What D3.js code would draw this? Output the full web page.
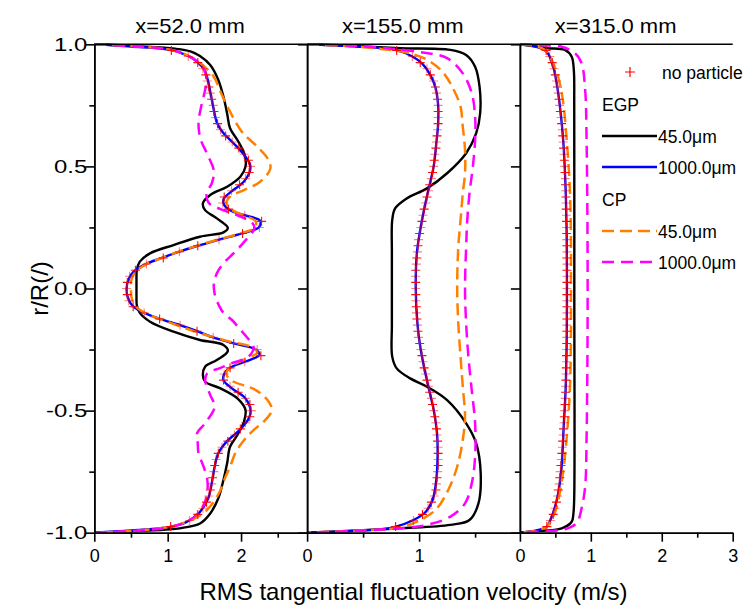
<!DOCTYPE html>
<html>
<head>
<meta charset="utf-8">
<script src="https://cdnjs.cloudflare.com/ajax/libs/d3/7.8.5/d3.min.js"></script>
<style>
  body { margin:0; background:#ffffff; }
  text { font-family:"Liberation Sans", Arial, sans-serif; fill:#000000; }
</style>
</head>
<body>
<div id="chart_svg_container"></div>
<script>
// Panels (one per axial station).
var panel_title_array        = ["x=52.0 mm", "x=155.0 mm", "x=315.0 mm"];
var panel_velocity_max_array = [2.9, 1.9, 3.0];
var panel_major_tick_array   = [[0, 1, 2], [0, 1], [0, 1, 2, 3]];
var panel_minor_tick_array   = [[0.5, 1.5, 2.5], [0.5, 1.5], [0.5, 1.5, 2.5]];
var r_major_tick_array       = [1, 0.5, 0, -0.5, -1];
var r_minor_tick_array       = [0.75, 0.25, -0.25, -0.75];

var axis_title_x = "RMS tangential fluctuation velocity (m/s)";
var axis_title_y = "r/R(/)";

var legend_marker_label = "no particle";
var legend_group_array  = ["EGP", "CP"];
var legend_size_array   = ["45.0\u03bcm", "1000.0\u03bcm"];

// No particle (markers): r/R positions and velocity per panel.
var no_particle_r_array = [
  0.975, 0.95, 0.925, 0.9, 0.875, 0.85, 0.825, 0.8, 0.775, 0.75, 0.725, 0.7, 0.675, 0.65, 0.625, 0.6, 0.575, 0.55, 0.525, 0.5,
  0.475, 0.45, 0.425, 0.4, 0.375, 0.35, 0.325, 0.3, 0.275, 0.25, 0.225, 0.2, 0.175, 0.15, 0.125, 0.1, 0.075, 0.05, 0.025, 0,
  -0.025, -0.05, -0.075, -0.1, -0.125, -0.15, -0.175, -0.2, -0.225, -0.25, -0.275, -0.3, -0.325, -0.35, -0.375, -0.4, -0.425, -0.45, -0.475, -0.5,
  -0.525, -0.55, -0.575, -0.6, -0.625, -0.65, -0.675, -0.7, -0.725, -0.75, -0.775, -0.8, -0.825, -0.85, -0.875, -0.9, -0.925, -0.95, -0.975
];
var no_particle_p1_array = [
  1.05, 1.28, 1.41, 1.48, 1.52, 1.54, 1.56, 1.58, 1.60, 1.62, 1.63, 1.65, 1.68, 1.72, 1.79, 1.88, 1.97, 2.04, 2.10, 2.13,
  2.11, 2.06, 1.98, 1.87, 1.77, 1.75, 1.83, 2.05, 2.28, 2.25, 2.02, 1.70, 1.41, 1.16, 0.94, 0.71, 0.56, 0.48, 0.45, 0.44,
  0.45, 0.47, 0.53, 0.68, 0.89, 1.17, 1.40, 1.62, 1.90, 2.22, 2.27, 2.05, 1.85, 1.77, 1.76, 1.85, 1.96, 2.06, 2.12, 2.14,
  2.12, 2.06, 1.99, 1.91, 1.82, 1.74, 1.69, 1.66, 1.64, 1.63, 1.61, 1.60, 1.58, 1.56, 1.53, 1.48, 1.41, 1.30, 1.04
];
var no_particle_p2_array = [
  0.80, 0.94, 1.01, 1.07, 1.10, 1.13, 1.145, 1.155, 1.165, 1.17, 1.17, 1.17, 1.17, 1.165, 1.16, 1.155, 1.15, 1.14, 1.135, 1.13,
  1.12, 1.11, 1.095, 1.085, 1.07, 1.06, 1.045, 1.035, 1.025, 1.015, 1.005, 0.995, 0.99, 0.985, 0.98, 0.975, 0.97, 0.97, 0.97, 0.97,
  0.97, 0.97, 0.975, 0.975, 0.98, 0.985, 0.99, 0.995, 1.005, 1.015, 1.025, 1.035, 1.045, 1.06, 1.07, 1.085, 1.095, 1.11, 1.12, 1.13,
  1.14, 1.15, 1.155, 1.16, 1.165, 1.17, 1.17, 1.17, 1.17, 1.165, 1.16, 1.155, 1.15, 1.135, 1.11, 1.08, 1.03, 0.95, 0.79
];
var no_particle_p3_array = [
  0.37, 0.42, 0.455, 0.48, 0.50, 0.515, 0.53, 0.54, 0.55, 0.56, 0.57, 0.58, 0.588, 0.596, 0.604, 0.61, 0.616, 0.622, 0.627, 0.632,
  0.636, 0.64, 0.643, 0.646, 0.649, 0.651, 0.653, 0.655, 0.657, 0.658, 0.659, 0.66, 0.661, 0.662, 0.662, 0.663, 0.663, 0.663, 0.663, 0.663,
  0.663, 0.663, 0.663, 0.663, 0.662, 0.662, 0.661, 0.66, 0.659, 0.658, 0.657, 0.655, 0.653, 0.651, 0.649, 0.646, 0.643, 0.64, 0.636, 0.632,
  0.627, 0.622, 0.616, 0.61, 0.603, 0.598, 0.592, 0.585, 0.578, 0.57, 0.562, 0.553, 0.542, 0.53, 0.515, 0.495, 0.47, 0.43, 0.38
];

// Line series, [velocity (m/s), r/R].
var egp_45_p1_array = [
  [0, 1], [0.6, 0.992], [1.1, 0.982], [1.31, 0.971], [1.44, 0.952], [1.58, 0.915], [1.69, 0.854], [1.76, 0.785], [1.81, 0.717],
  [1.85, 0.656], [1.95, 0.608], [2.05, 0.547], [2.06, 0.499], [1.99, 0.458], [1.81, 0.417], [1.58, 0.383], [1.48, 0.349],
  [1.51, 0.321], [1.67, 0.287], [1.82, 0.248], [1.76, 0.23], [1.44, 0.212], [1.08, 0.178], [0.76, 0.144], [0.62, 0.11],
  [0.58, 0.076], [0.575, 0.03], [0.575, 0], [0.575, -0.03], [0.58, -0.07], [0.62, -0.10], [0.76, -0.136], [1.08, -0.177],
  [1.44, -0.211], [1.76, -0.231], [1.82, -0.256], [1.67, -0.293], [1.51, -0.32], [1.48, -0.355], [1.51, -0.382], [1.72, -0.409],
  [1.95, -0.45], [2.06, -0.497], [2.04, -0.545], [1.95, -0.60], [1.85, -0.648], [1.81, -0.716], [1.76, -0.784], [1.69, -0.859],
  [1.58, -0.921], [1.44, -0.962], [1.26, -0.977], [1.03, -0.986], [0.6, -0.993], [0, -1]
];
var egp_1000_p1_array = [
  [0, 1], [0.5, 0.991], [1.05, 0.977], [1.28, 0.952], [1.41, 0.926], [1.50, 0.895], [1.55, 0.85], [1.59, 0.79], [1.63, 0.73],
  [1.67, 0.68], [1.75, 0.64], [1.88, 0.60], [2.02, 0.555], [2.12, 0.51], [2.12, 0.48], [2.03, 0.435], [1.88, 0.40], [1.77, 0.37],
  [1.76, 0.35], [1.85, 0.32], [2.05, 0.30], [2.26, 0.277], [2.24, 0.25], [2.00, 0.225], [1.70, 0.20], [1.41, 0.175], [1.15, 0.15],
  [0.92, 0.125], [0.70, 0.10], [0.54, 0.07], [0.47, 0.04], [0.44, 0], [0.46, -0.04], [0.52, -0.07], [0.68, -0.10], [0.90, -0.125],
  [1.17, -0.15], [1.40, -0.175], [1.62, -0.20], [1.90, -0.225], [2.20, -0.25], [2.25, -0.272], [2.05, -0.30], [1.85, -0.325],
  [1.77, -0.35], [1.76, -0.375], [1.88, -0.41], [2.06, -0.45], [2.13, -0.50], [2.10, -0.535], [1.96, -0.585], [1.80, -0.628],
  [1.69, -0.675], [1.64, -0.73], [1.60, -0.798], [1.56, -0.853], [1.49, -0.894], [1.40, -0.928], [1.24, -0.959], [1.03, -0.976],
  [0.5, -0.991], [0, -1]
];
var cp_45_p1_array = [
  [0, 1], [0.6, 0.991], [1.05, 0.977], [1.28, 0.954], [1.42, 0.928], [1.55, 0.895], [1.63, 0.867], [1.74, 0.792], [1.85, 0.724],
  [2.01, 0.642], [2.22, 0.581], [2.36, 0.533], [2.40, 0.492], [2.26, 0.437], [2.04, 0.403], [1.85, 0.376], [1.80, 0.35],
  [1.86, 0.325], [2.03, 0.30], [2.20, 0.275], [2.19, 0.25], [1.98, 0.225], [1.68, 0.20], [1.40, 0.175], [1.14, 0.15], [0.92, 0.125],
  [0.71, 0.10], [0.57, 0.07], [0.51, 0.04], [0.50, 0], [0.51, -0.04], [0.57, -0.075], [0.72, -0.105], [0.94, -0.13], [1.17, -0.155],
  [1.44, -0.183], [1.81, -0.215], [2.15, -0.24], [2.22, -0.262], [2.05, -0.29], [1.86, -0.32], [1.80, -0.35], [1.86, -0.375],
  [2.20, -0.416], [2.36, -0.457], [2.42, -0.497], [2.31, -0.545], [2.17, -0.58], [2.08, -0.607], [1.99, -0.641], [1.92, -0.675],
  [1.85, -0.73], [1.79, -0.77], [1.72, -0.825], [1.63, -0.873], [1.51, -0.914], [1.40, -0.936], [1.24, -0.958], [1.03, -0.976],
  [0.6, -0.991], [0, -1]
];
var cp_1000_p1_array = [
  [0, 1], [0.6, 0.991], [1.05, 0.977], [1.28, 0.953], [1.42, 0.927], [1.50, 0.895], [1.53, 0.855], [1.50, 0.80], [1.46, 0.75],
  [1.42, 0.676], [1.45, 0.61], [1.54, 0.55], [1.63, 0.48], [1.60, 0.43], [1.53, 0.39], [1.56, 0.35], [1.72, 0.325], [1.95, 0.30],
  [2.15, 0.27], [2.18, 0.245], [2.04, 0.19], [1.90, 0.145], [1.76, 0.103], [1.67, 0.062], [1.63, 0.02], [1.63, 0], [1.65, -0.035],
  [1.70, -0.07], [1.76, -0.10], [1.88, -0.13], [1.98, -0.165], [2.08, -0.20], [2.17, -0.24], [2.10, -0.28], [1.88, -0.305],
  [1.72, -0.325], [1.54, -0.347], [1.51, -0.375], [1.58, -0.436], [1.64, -0.484], [1.51, -0.552], [1.40, -0.593], [1.41, -0.634],
  [1.42, -0.675], [1.49, -0.73], [1.54, -0.784], [1.54, -0.832], [1.50, -0.88], [1.42, -0.918], [1.28, -0.952], [1.05, -0.976],
  [0.6, -0.991], [0, -1]
];

var egp_45_p2_array = [
  [0, 1], [0.45, 0.992], [0.83, 0.984], [1.28, 0.977], [1.42, 0.956], [1.50, 0.908], [1.54, 0.826], [1.545, 0.717], [1.51, 0.636],
  [1.42, 0.554], [1.25, 0.472], [1.07, 0.41], [0.89, 0.369], [0.786, 0.328], [0.76, 0.28], [0.757, 0.15], [0.757, 0],
  [0.757, -0.15], [0.76, -0.279], [0.80, -0.327], [0.92, -0.368], [1.07, -0.402], [1.25, -0.457], [1.42, -0.552], [1.51, -0.634],
  [1.55, -0.757], [1.53, -0.88], [1.45, -0.948], [1.28, -0.968], [0.83, -0.982], [0.45, -0.991], [0, -1]
];
var egp_1000_p2_array = [
  [0, 1], [0.4, 0.992], [0.79, 0.977], [0.94, 0.95], [1.03, 0.92], [1.10, 0.875], [1.145, 0.825], [1.17, 0.75], [1.17, 0.675],
  [1.155, 0.6], [1.13, 0.5], [1.09, 0.417], [1.05, 0.335], [1.01, 0.24], [0.98, 0.144], [0.97, 0], [0.985, -0.143], [1.01, -0.238],
  [1.05, -0.334], [1.09, -0.416], [1.13, -0.497], [1.16, -0.593], [1.165, -0.689], [1.15, -0.798], [1.12, -0.866], [1.06, -0.914],
  [0.95, -0.948], [0.77, -0.978], [0.4, -0.993], [0, -1]
];
var cp_45_p2_array = [
  [0, 1], [0.45, 0.99], [0.92, 0.963], [1.10, 0.929], [1.22, 0.881], [1.31, 0.813], [1.37, 0.745], [1.39, 0.663], [1.41, 0.567],
  [1.41, 0.472], [1.39, 0.39], [1.37, 0.28], [1.35, 0.171], [1.34, 0], [1.35, -0.143], [1.37, -0.279], [1.39, -0.402],
  [1.41, -0.525], [1.39, -0.62], [1.34, -0.73], [1.26, -0.825], [1.16, -0.9], [1.04, -0.941], [0.83, -0.978], [0.4, -0.992], [0, -1]
];
var cp_1000_p2_array = [
  [0, 1], [0.45, 0.993], [0.98, 0.97], [1.25, 0.943], [1.39, 0.881], [1.47, 0.80], [1.50, 0.704], [1.50, 0.608], [1.48, 0.499],
  [1.45, 0.39], [1.43, 0.28], [1.42, 0.171], [1.41, 0], [1.42, -0.143], [1.44, -0.279], [1.47, -0.416], [1.50, -0.552],
  [1.50, -0.689], [1.47, -0.798], [1.41, -0.88], [1.28, -0.934], [1.07, -0.968], [0.83, -0.982], [0.4, -0.993], [0, -1]
];

var egp_45_p3_array = [
  [0, 1], [0.2, 0.992], [0.40, 0.984], [0.635, 0.977], [0.73, 0.949], [0.76, 0.895], [0.766, 0.75], [0.767, 0], [0.766, -0.85],
  [0.755, -0.92], [0.73, -0.955], [0.59, -0.982], [0.2, -0.994], [0, -1]
];
var egp_1000_p3_array = [
  [0, 1], [0.2, 0.993], [0.376, 0.97], [0.47, 0.908], [0.54, 0.80], [0.61, 0.608], [0.645, 0.403], [0.66, 0.2], [0.663, 0],
  [0.66, -0.2], [0.645, -0.41], [0.62, -0.55], [0.58, -0.757], [0.52, -0.866], [0.43, -0.948], [0.38, -0.975], [0.2, -0.993], [0, -1]
];
var cp_45_p3_array = [
  [0, 1], [0.2, 0.993], [0.35, 0.977], [0.49, 0.908], [0.59, 0.80], [0.66, 0.608], [0.705, 0.403], [0.72, 0.2], [0.72, 0],
  [0.72, -0.2], [0.705, -0.41], [0.66, -0.61], [0.59, -0.79], [0.49, -0.92], [0.376, -0.975], [0.2, -0.993], [0, -1]
];
var cp_1000_p3_array = [
  [0, 1], [0.3, 0.996], [0.59, 0.99], [0.78, 0.963], [0.87, 0.922], [0.92, 0.813], [0.94, 0.608], [0.955, 0], [0.94, -0.61],
  [0.92, -0.81], [0.87, -0.9], [0.80, -0.96], [0.635, -0.986], [0.40, -0.993], [0, -1]
];

var no_particle_array = [no_particle_p1_array, no_particle_p2_array, no_particle_p3_array];
var series_array = [
  { data:[egp_45_p1_array, egp_45_p2_array, egp_45_p3_array],       color:"#000000", dash:null,   width:2.4 },
  { data:[egp_1000_p1_array, egp_1000_p2_array, egp_1000_p3_array], color:"#0000ff", dash:null,   width:2.4 },
  { data:[cp_45_p1_array, cp_45_p2_array, cp_45_p3_array],          color:"#ff8000", dash:"12,6", width:2.5 },
  { data:[cp_1000_p1_array, cp_1000_p2_array, cp_1000_p3_array],    color:"#ff00ff", dash:"12,7", width:2.5 }
];

var svg_dimension = { height:608, width:743 };
var plot_left     = 94.3;
var plot_top      = 44.3;
var plot_bottom   = 532.7;
var panel_width   = 212.8;
var scale_r       = d3.scaleLinear().domain([-1, 1]).range([plot_bottom, plot_top]);
var marker_path   = "M-4.5,0H4.5M0,-4.5V4.5";

var chart_svg = d3.select("#chart_svg_container").append("svg")
  .attr("height", svg_dimension.height)
  .attr("width", svg_dimension.width);

// Text that is wider than the font draws it is stretched on x only.
function stretch_text (_text, _x, _y, _factor) {
  return _text
    .attr("x", _x/_factor)
    .attr("y", _y)
    .attr("transform", "scale(" + _factor + ",1)");
}

function draw_panel (_i) {
  var x_0     = plot_left + _i*panel_width;
  var scale_v = d3.scaleLinear().domain([0, panel_velocity_max_array[_i]]).range([x_0, x_0 + panel_width]);
  var line    = d3.line()
    .x(function (d) { return scale_v(d[0]); })
    .y(function (d) { return scale_r(d[1]); })
    .curve(d3.curveCatmullRom.alpha(0.5));

  chart_svg.append("clipPath")
    .attr("id", "clip_panel_" + _i)
    .append("rect")
    .attr("x", x_0)
    .attr("y", plot_top - 3)
    .attr("width", panel_width)
    .attr("height", plot_bottom - plot_top + 6);

  var panel_g = chart_svg.append("g").attr("clip-path", "url(#clip_panel_" + _i + ")");

  for (var s = 0; s < series_array.length; s ++) {
    panel_g.append("path")
      .datum(series_array[s].data[_i])
      .attr("d", line)
      .style("fill", "none")
      .style("stroke", series_array[s].color)
      .style("stroke-width", series_array[s].width)
      .style("stroke-dasharray", series_array[s].dash);
  }

  panel_g.selectAll(".no_particle_marker_" + _i)
    .data(no_particle_array[_i])
    .enter().append("path")
    .attr("class", "no_particle_marker_" + _i)
    .attr("d", marker_path)
    .attr("transform", function (d, j) { return "translate(" + scale_v(d) + "," + scale_r(no_particle_r_array[j]) + ")"; })
    .style("fill", "none")
    .style("stroke", "#ff0000")
    .style("stroke-width", 1.1)
    .style("opacity", function (d, j) { return j % 2 == 0 ? 0.95 : 0.5; });

  // Bottom axis.
  var axis_bottom_major = chart_svg.append("g")
    .attr("transform", "translate(0," + plot_bottom + ")")
    .call(d3.axisBottom(scale_v).tickValues(panel_major_tick_array[_i]).tickSize(9).tickSizeOuter(0).tickPadding(8)
      .tickFormat(function (d) { return String(d); }));
  axis_bottom_major.selectAll("text").style("font-size", "18px").style("font-family", "'Liberation Sans', Arial, sans-serif");
  chart_svg.append("g")
    .attr("transform", "translate(0," + plot_bottom + ")")
    .call(d3.axisBottom(scale_v).tickValues(panel_minor_tick_array[_i]).tickSize(5).tickSizeOuter(0).tickFormat(""));

  // Left axis of each panel, labels only on the first one.
  var scale_r_axis = d3.axisLeft(scale_r).tickValues(r_major_tick_array).tickSize(9).tickSizeOuter(0);
  var axis_left_major = chart_svg.append("g")
    .attr("transform", "translate(" + x_0 + ",0)")
    .call(scale_r_axis.tickFormat(_i == 0 ? function (d) { return d.toFixed(1); } : ""));
  axis_left_major.selectAll("text").each(function () {
    stretch_text(d3.select(this), -7, 0, 1.33)
      .style("font-size", "18px")
      .style("font-family", "'Liberation Sans', Arial, sans-serif");
  });
  chart_svg.append("g")
    .attr("transform", "translate(" + x_0 + ",0)")
    .call(d3.axisLeft(scale_r).tickValues(r_minor_tick_array).tickSize(5).tickSizeOuter(0).tickFormat(""));

  stretch_text(chart_svg.append("text"), x_0 + panel_width*0.45, 33.5, 1.1)
    .attr("text-anchor", "middle")
    .style("font-size", "20px")
    .text(panel_title_array[_i]);
}

for (var i = 0; i < panel_title_array.length; i ++) {
  draw_panel(i);
}

chart_svg.selectAll(".domain, .tick line")
  .style("stroke", "#000000")
  .style("stroke-width", 1.6);

chart_svg.append("line")
  .attr("x1", plot_left)
  .attr("x2", plot_left + 3*panel_width)
  .attr("y1", plot_top)
  .attr("y2", plot_top)
  .style("stroke", "#000000")
  .style("stroke-width", 1.6);

chart_svg.append("text")
  .attr("x", plot_left + 1.5*panel_width)
  .attr("y", 600)
  .attr("text-anchor", "middle")
  .style("font-size", "24px")
  .text(axis_title_x);

chart_svg.append("text")
  .attr("transform", "translate(48," + scale_r(0) + ") rotate(-90)")
  .attr("text-anchor", "middle")
  .style("font-size", "24px")
  .text(axis_title_y);

// Legend.
var legend_x = 602;
var legend_g = chart_svg.append("g").style("font-size", "17.5px");
legend_g.append("path")
  .attr("d", "M-5,0H5M0,-5V5")
  .attr("transform", "translate(630,72)")
  .style("stroke", "#ff0000")
  .style("stroke-width", 1.2);
legend_g.append("text").attr("x", 662).attr("y", 73).attr("dy", "0.35em").text(legend_marker_label);
for (var g = 0; g < legend_group_array.length; g ++) {
  var y_group = 105 + g*95;
  legend_g.append("text").attr("x", legend_x).attr("y", y_group).attr("dy", "0.35em").text(legend_group_array[g]);
  for (var k = 0; k < legend_size_array.length; k ++) {
    var series_temp = series_array[g*2 + k];
    var y_line      = y_group + 31 + k*31;
    legend_g.append("line")
      .attr("x1", legend_x)
      .attr("x2", legend_x + 55)
      .attr("y1", y_line)
      .attr("y2", y_line)
      .style("stroke", series_temp.color)
      .style("stroke-width", series_temp.width)
      .style("stroke-dasharray", series_temp.dash);
    legend_g.append("text").attr("x", legend_x + 56).attr("y", y_line + 1).attr("dy", "0.35em").text(legend_size_array[k]);
  }
}
</script>
</body>
</html>
